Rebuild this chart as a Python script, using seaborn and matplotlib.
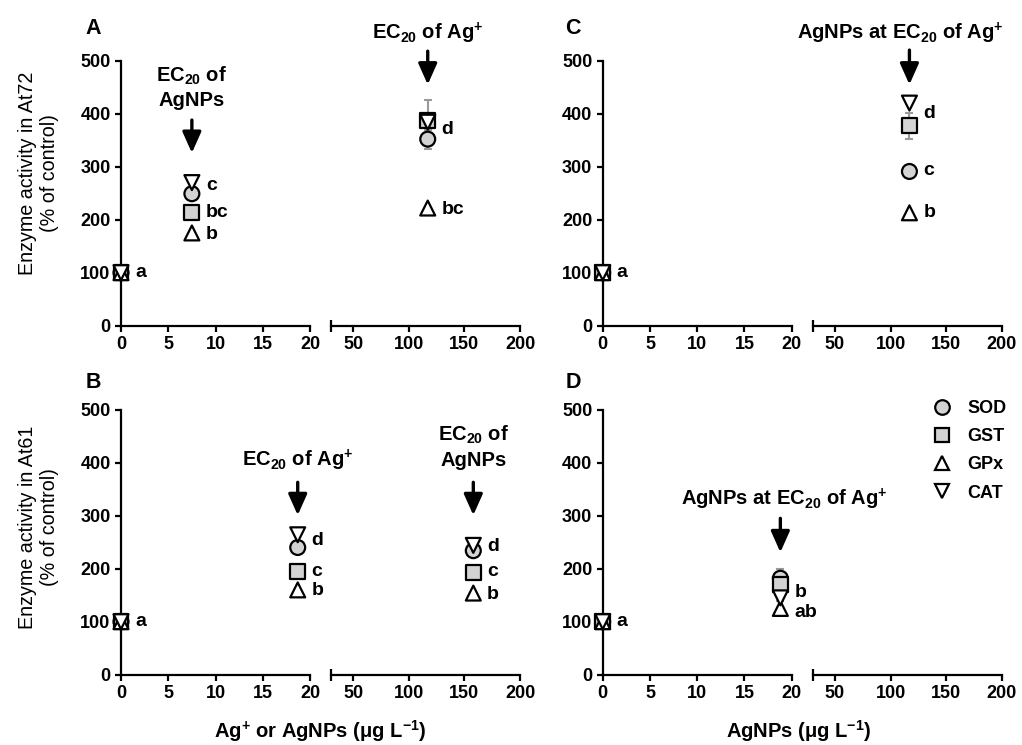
import numpy as np
import pandas as pd
import matplotlib
matplotlib.use("Agg")
import matplotlib.pyplot as plt
import seaborn as sns
from matplotlib.lines import Line2D
from matplotlib.ticker import FixedLocator

sns.set_theme(style="ticks")
plt.rcParams["font.family"] = ["Liberation Sans", "DejaVu Sans"]
plt.rcParams["mathtext.fontset"] = "custom"
plt.rcParams["mathtext.rm"] = "Liberation Sans:bold"
plt.rcParams["mathtext.bf"] = "Liberation Sans:bold"
plt.rcParams["mathtext.it"] = "Liberation Sans:bold"
plt.rcParams["mathtext.default"] = "rm"
for k in ["text.color", "axes.labelcolor", "xtick.color", "ytick.color", "axes.edgecolor"]:
    plt.rcParams[k] = "black"

# ---------------- data ----------------
enzymes = ["SOD", "GST", "GPx", "CAT"]
markers = {"SOD": "o", "GST": "s", "GPx": "^", "CAT": "v"}
fills = {"SOD": "#d3d3d3", "GST": "#d3d3d3", "GPx": "white", "CAT": "white"}

# Panel A: At72, Ag+ or AgNPs
a_x = [0, 7.5, 117]
a_sod = [100, 249, 352]
a_gst = [100, 213, 388]
a_gpx = [100, 175, 222]
a_cat = [100, 270, 384]
a_sod_err = [0, 0, 18]
a_gst_err = [0, 0, 38]
a_gpx_err = [0, 0, 0]
a_cat_err = [0, 0, 0]
a_letters = ["a", "c", "bc", "b", "d", "bc"]
a_letter_x = [0, 7.5, 7.5, 7.5, 117, 117]
a_letter_y = [100, 265, 213, 172, 370, 220]

# Panel B: At61, Ag+ or AgNPs
b_x = [0, 18.7, 158]
b_sod = [100, 240, 234]
b_gst = [100, 194, 192]
b_gpx = [100, 160, 154]
b_cat = [100, 264, 244]
b_sod_err = [0, 0, 0]
b_gst_err = [0, 0, 0]
b_gpx_err = [0, 0, 0]
b_cat_err = [0, 0, 10]
b_letters = ["a", "d", "c", "b", "d", "c", "b"]
b_letter_x = [0, 18.7, 18.7, 18.7, 158, 158, 158]
b_letter_y = [100, 254, 194, 158, 241, 194, 151]

# Panel C: At72, AgNPs
c_x = [0, 117]
c_sod = [100, 291]
c_gst = [100, 377]
c_gpx = [100, 213]
c_cat = [100, 420]
c_sod_err = [0, 0]
c_gst_err = [0, 25]
c_gpx_err = [0, 0]
c_cat_err = [0, 0]
c_letters = ["a", "d", "c", "b"]
c_letter_x = [0, 117, 117, 117]
c_letter_y = [100, 400, 292, 213]

# Panel D: At61, AgNPs
d_x = [0, 18.8]
d_sod = [100, 182]
d_gst = [100, 170]
d_gpx = [100, 125]
d_cat = [100, 145]
d_sod_err = [0, 0]
d_gst_err = [0, 30]
d_gpx_err = [0, 0]
d_cat_err = [0, 0]
d_letters = ["a", "b", "ab"]
d_letter_x = [0, 18.8, 18.8]
d_letter_y = [100, 155, 118]

x_ticks_left = [0, 5, 10, 15, 20]
x_ticks_right = [50, 100, 150, 200]
y_ticks = [0, 100, 200, 300, 400, 500]

ec_ag = "EC$_{20}$ of Ag$^{+}$"
ec_np = "EC$_{20}$ of\nAgNPs"
np_at = "AgNPs at EC$_{20}$ of Ag$^{+}$"


def long_df(x, sod, gst, gpx, cat, esod, egst, egpx, ecat):
    rows = []
    for name, vals, errs in zip(enzymes, [sod, gst, gpx, cat], [esod, egst, egpx, ecat]):
        for xi, v, e in zip(x, vals, errs):
            rows.append({"x": xi, "value": v, "err": e, "enzyme": name})
    return pd.DataFrame(rows)


dfA = long_df(a_x, a_sod, a_gst, a_gpx, a_cat, a_sod_err, a_gst_err, a_gpx_err, a_cat_err)
dfB = long_df(b_x, b_sod, b_gst, b_gpx, b_cat, b_sod_err, b_gst_err, b_gpx_err, b_cat_err)
dfC = long_df(c_x, c_sod, c_gst, c_gpx, c_cat, c_sod_err, c_gst_err, c_gpx_err, c_cat_err)
dfD = long_df(d_x, d_sod, d_gst, d_gpx, d_cat, d_sod_err, d_gst_err, d_gpx_err, d_cat_err)

# ---------------- figure ----------------
W, H = 1022, 745
fig = plt.figure(figsize=(W / 100, H / 100), dpi=100)

col_left = {"A": 121, "C": 602.7}
seg_w = 189
gap = 21
row_top = {"top": 60.7, "bottom": 409.7}
ax_h = 265

FS = 13
FS_T = 14.5


def make_axes(xpx, ytop):
    l = fig.add_axes([xpx / W, 1 - (ytop + ax_h) / H, seg_w / W, ax_h / H])
    r = fig.add_axes([(xpx + seg_w + gap) / W, 1 - (ytop + ax_h) / H, seg_w / W, ax_h / H])
    for ax in (l, r):
        ax.set_facecolor("none")
        ax.set_ylim(0, 500)
        for s in ["top", "right"]:
            ax.spines[s].set_visible(False)
        ax.spines["bottom"].set_linewidth(1.6)
        ax.spines["left"].set_linewidth(1.6)
        ax.spines["bottom"].set_color("black")
        ax.spines["left"].set_color("black")
        ax.tick_params(axis="both", which="major", direction="out", length=4.5,
                       width=1.6, colors="black", labelsize=FS, pad=3)
        ax.tick_params(axis="x", which="minor", direction="inout", length=9,
                       width=1.6, colors="black")
    l.set_xlim(0, 20)
    l.set_xticks(x_ticks_left)
    l.xaxis.set_minor_locator(FixedLocator([20]))
    l.set_yticks(y_ticks)
    r.set_xlim(30, 200)
    r.set_xticks(x_ticks_right)
    r.xaxis.set_minor_locator(FixedLocator([30]))
    r.spines["left"].set_visible(False)
    r.set_yticks([])
    for ax in (l, r):
        for lab in ax.get_xticklabels() + ax.get_yticklabels():
            lab.set_fontweight("bold")
        ax.set_xlabel("")
        ax.set_ylabel("")
    return l, r


def draw(ax, df, letters, lx, ly, left):
    sub = df[(df["x"] <= 20)] if left else df[(df["x"] >= 30)]
    sub_lx = [(t, x, y) for t, x, y in zip(letters, lx, ly) if (x <= 20) == left]
    e = sub[sub["err"] > 0]
    if len(e):
        ax.errorbar(e["x"], e["value"], yerr=e["err"], fmt="none", ecolor="#9a9a9a",
                    elinewidth=1.5, capsize=3, capthick=1.5, zorder=1)
    if len(sub):
        sns.scatterplot(data=sub, x="x", y="value", hue="enzyme", style="enzyme",
                        hue_order=enzymes, style_order=enzymes, palette=fills,
                        markers=markers, s=115, edgecolor="black", linewidth=1.6,
                        legend=False, ax=ax, zorder=5)
        for coll in ax.collections:
            coll.set_clip_on(False)
    for t, x, y in sub_lx:
        ax.annotate(t, (x, y), xytext=(10, 0), textcoords="offset points",
                    ha="left", va="center", fontsize=14, fontweight="bold",
                    annotation_clip=False)
    ax.set_xlabel("")
    ax.set_ylabel("")


def note(ax, x, text, text_y, tail, tip, dx=0):
    ax.annotate("", xy=(x, tip), xytext=(x, tail),
                arrowprops=dict(arrowstyle="-|>,head_length=0.85,head_width=0.38",
                                color="black", lw=2.4, mutation_scale=15,
                                shrinkA=0, shrinkB=0),
                annotation_clip=False)
    ax.annotate(text, (x, text_y), xytext=(dx, 0), textcoords="offset pixels",
                ha="center", va="center", fontsize=FS_T, fontweight="bold",
                annotation_clip=False, linespacing=1.3)


# Panel A
aL, aR = make_axes(col_left["A"], row_top["top"])
draw(aL, dfA, a_letters, a_letter_x, a_letter_y, True)
draw(aR, dfA, a_letters, a_letter_x, a_letter_y, False)
note(aL, 7.5, ec_np, 450, 388, 326)
note(aR, 117, ec_ag, 552, 518, 455)

# Panel C
cL, cR = make_axes(col_left["C"], row_top["top"])
draw(cL, dfC, c_letters, c_letter_x, c_letter_y, True)
draw(cR, dfC, c_letters, c_letter_x, c_letter_y, False)
note(cR, 117, np_at, 552, 520, 455, dx=-9)

# Panel B
bL, bR = make_axes(col_left["A"], row_top["bottom"])
draw(bL, dfB, b_letters, b_letter_x, b_letter_y, True)
draw(bR, dfB, b_letters, b_letter_x, b_letter_y, False)
note(bL, 18.7, ec_ag, 405, 363, 301)
note(bR, 158, ec_np, 430, 363, 301)

# Panel D
dL, dR = make_axes(col_left["C"], row_top["bottom"])
draw(dL, dfD, d_letters, d_letter_x, d_letter_y, True)
draw(dR, dfD, d_letters, d_letter_x, d_letter_y, False)
note(dL, 18.8, np_at, 330, 295, 231, dx=4)

# Legend in panel D
handles = [Line2D([], [], marker=markers[e], ls="", markerfacecolor=fills[e],
                  markeredgecolor="black", markeredgewidth=1.6, markersize=10.5)
           for e in enzymes]
fig.legend(handles, enzymes, loc="upper left", bbox_to_anchor=(933 / W, 1 - 400 / H),
           frameon=False, handlelength=1.0, handletextpad=0.9, labelspacing=0.62,
           borderpad=0, borderaxespad=0, prop=dict(weight="bold", size=FS))

# Panel letters
for lab, (px, py) in {"A": (93, 28), "B": (93, 383), "C": (573, 28), "D": (573, 383)}.items():
    fig.text(px / W, 1 - py / H, lab, fontsize=15.5, fontweight="bold", ha="center", va="center")

# Y labels
fig.text(39 / W, 1 - 173 / H, "Enzyme activity in At72\n(% of control)", rotation=90,
         ha="center", va="center", fontsize=14.2, linespacing=1.2)
fig.text(39 / W, 1 - 527 / H, "Enzyme activity in At61\n(% of control)", rotation=90,
         ha="center", va="center", fontsize=14.2, linespacing=1.2)

# X labels
fig.text(320 / W, 1 - 731 / H, "Ag$^{+}$ or AgNPs (\u03bcg L$^{-1}$)", ha="center",
         va="center", fontsize=FS_T, fontweight="bold")
fig.text(799 / W, 1 - 731 / H, "AgNPs (\u03bcg L$^{-1}$)", ha="center",
         va="center", fontsize=FS_T, fontweight="bold")

fig.savefig("out.png", dpi=100)
